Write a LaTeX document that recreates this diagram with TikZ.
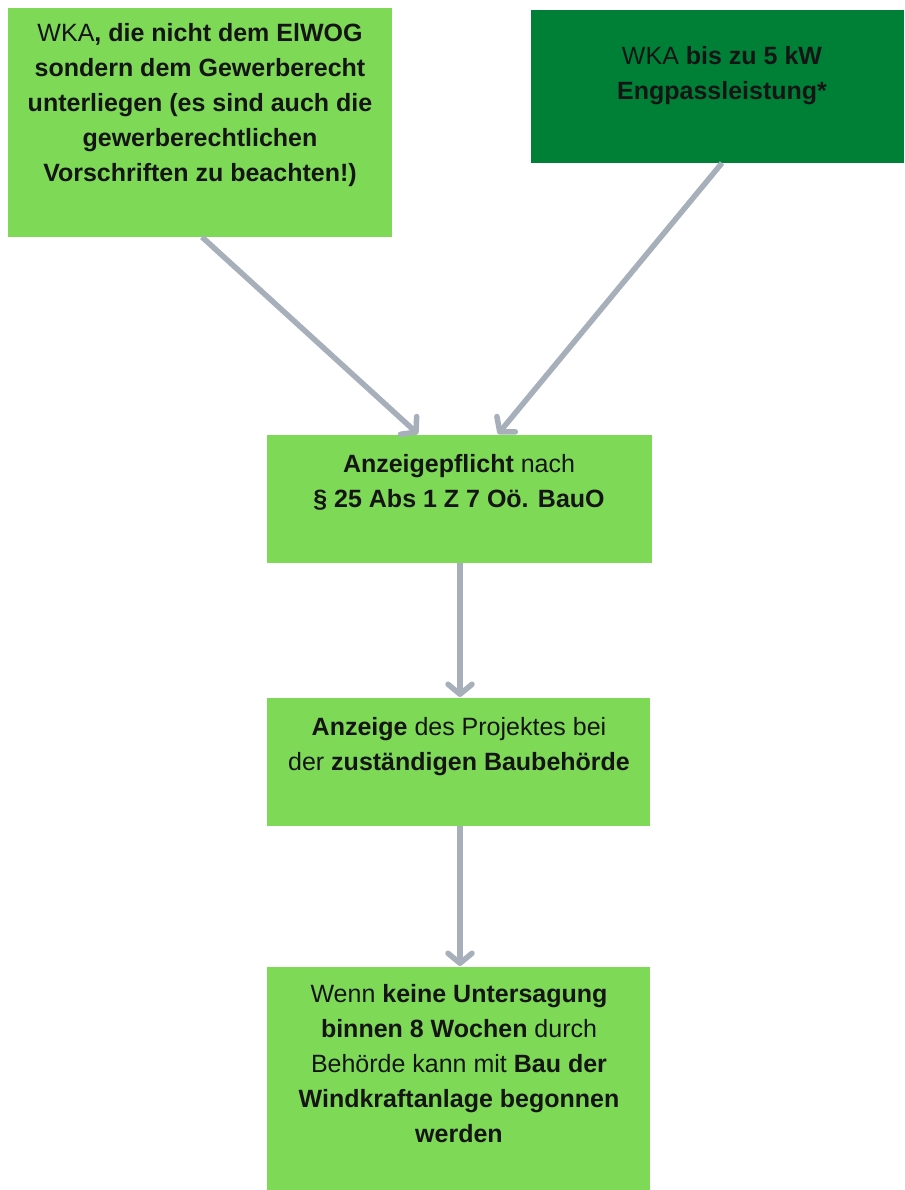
\documentclass[tikz,border=0pt]{standalone}
\usepackage{fontspec}
\setmainfont{Liberation Sans}
\usetikzlibrary{arrows.meta}
\definecolor{lgreen}{HTML}{7ED957}
\definecolor{dgreen}{HTML}{008037}
\definecolor{arrgray}{HTML}{A7B0BA}
\definecolor{txt}{HTML}{151515}
\begin{document}
\begin{tikzpicture}[x=1pt,y=-1pt,
  box/.style={draw=none,inner sep=0pt,outer sep=0pt},
  lbl/.style={anchor=north,align=center,inner sep=0pt,text=txt,
    font=\fontsize{25}{35}\selectfont},
  conn/.style={draw=arrgray,line width=5.5pt,
    -{Straight Barb[length=10pt,width=24pt,line width=5.5pt,round]}}]
\useasboundingbox (0,0) rectangle (904,1190);
\fill[white] (0,0) rectangle (904,1190);
% boxes
\path[box,fill=lgreen] (8,8) rectangle (392,237);
\coordinate (b1s) at (202,237);
\path[box,fill=dgreen] (531,10) rectangle (904,163);
\coordinate (b2s) at (722,163);
\path[box,fill=lgreen] (267,435) rectangle (652,563);
\coordinate (b3n1) at (418,434);
\coordinate (b3n2) at (498,434);
\coordinate (b3s) at (460,563);
\path[box,fill=lgreen] (267,698) rectangle (650,826);
\coordinate (b4n) at (460,697);
\coordinate (b4s) at (460,826);
\path[box,fill=lgreen] (267,967) rectangle (650,1190);
\coordinate (b5n) at (460,966);
% texts
\node[lbl] (t1) at (200,23) {WKA\textbf{, die nicht dem ElWOG}\\
  \textbf{sondern dem Gewerberecht}\\
  \textbf{unterliegen (es sind auch die}\\
  \textbf{gewerberechtlichen}\\
  \textbf{Vorschriften zu beachten!)}};
\node[lbl] (t2) at (722,46) {WKA \textbf{bis zu 5 kW}\\ \textbf{Engpassleistung*}};
\node[lbl] (t3) at (459,454) {\textbf{Anzeigepflicht} nach\\ \textbf{§ 25 Abs 1 Z 7 Oö. BauO}};
\node[lbl] (t4) at (459,717) {\textbf{Anzeige} des Projektes bei\\ der \textbf{zuständigen Baubehörde}};
\node[lbl] (t5) at (459,984) {Wenn \textbf{keine Untersagung}\\
  \textbf{binnen 8 Wochen} durch\\
  Behörde kann mit \textbf{Bau der}\\
  \textbf{Windkraftanlage begonnen}\\
  \textbf{werden}};
% connectors
\draw[conn] (b1s) -- (b3n1);
\draw[conn] (b2s) -- (b3n2);
\draw[conn] (b3s) -- (b4n);
\draw[conn] (b4s) -- (b5n);
\end{tikzpicture}
\end{document}
